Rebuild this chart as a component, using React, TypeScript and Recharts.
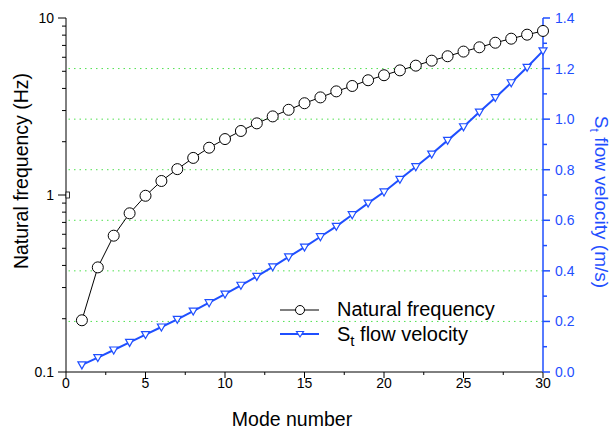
import {
  ComposedChart, Line, XAxis, YAxis, ReferenceLine,
} from 'recharts'

const modes = [
  1, 2, 3, 4, 5, 6, 7, 8, 9, 10, 11, 12, 13, 14, 15,
  16, 17, 18, 19, 20, 21, 22, 23, 24, 25, 26, 27, 28, 29, 30,
]
const naturalFrequency = [
  0.196, 0.39, 0.589, 0.788, 0.99, 1.2, 1.4, 1.62, 1.85, 2.07,
  2.3, 2.54, 2.78, 3.03, 3.3, 3.56, 3.85, 4.13, 4.45, 4.75,
  5.06, 5.38, 5.74, 6.08, 6.46, 6.83, 7.25, 7.64, 8.05, 8.45,
]
const flowVelocity = [
  0.028, 0.057, 0.087, 0.117, 0.148, 0.178, 0.208, 0.241, 0.274, 0.308,
  0.343, 0.378, 0.416, 0.455, 0.494, 0.535, 0.576, 0.622, 0.668, 0.712,
  0.762, 0.812, 0.862, 0.916, 0.97, 1.028, 1.085, 1.144, 1.205, 1.27,
]
const xTicks = [0, 2.5, 5, 7.5, 10, 12.5, 15, 17.5, 20, 22.5, 25, 27.5, 30]
const xMajor = [0, 5, 10, 15, 20, 25, 30]
const leftTicks = [
  0.1, 0.2, 0.3, 0.4, 0.5, 0.6, 0.7, 0.8, 0.9,
  1, 2, 3, 4, 5, 6, 7, 8, 9, 10,
]
const leftMajor = [0.1, 1, 10]
const rightTicks = [0, 0.1, 0.2, 0.3, 0.4, 0.5, 0.6, 0.7, 0.8, 0.9, 1, 1.1, 1.2, 1.3, 1.4]
const rightMajor = [0, 0.2, 0.4, 0.6, 0.8, 1, 1.2, 1.4]
const gridValues = [0.2, 0.4, 0.6, 0.8, 1, 1.2]

const BLUE = '#1f4fff'
const FONT = '"Liberation Sans", Arial, sans-serif'

const data = modes.map((m, i) => ({
  mode: m,
  freq: naturalFrequency[i],
  vel: flowVelocity[i],
}))

const isIn = (list: number[], v: number) => list.some((t) => Math.abs(t - v) < 1e-6)

function BottomTick({ x, y, payload }: any) {
  const major = isIn(xMajor, payload.value)
  return (
    <g>
      <line x1={x} x2={x} y1={y} y2={y + (major ? 6 : 3)} stroke="#000" />
      {major && (
        <text x={x} y={y + 16} textAnchor="middle" fontSize={14} fontFamily={FONT} fill="#000">
          {payload.value}
        </text>
      )}
    </g>
  )
}

function LeftTick({ x, y, payload }: any) {
  const major = isIn(leftMajor, payload.value)
  return (
    <g>
      <line x1={x} x2={x - (major ? 8 : 4)} y1={y} y2={y} stroke="#000" />
      {payload.value === 1 && (
        <rect x={x} y={y - 3} width={3.5} height={6} fill="#fff" stroke="#000" strokeWidth={0.8} />
      )}
      {major && (
        <text x={x - 12} y={y + 5} textAnchor="end" fontSize={14} fontFamily={FONT} fill="#000">
          {payload.value}
        </text>
      )}
    </g>
  )
}

function RightTick({ x, y, payload }: any) {
  const major = isIn(rightMajor, payload.value)
  return (
    <g>
      <line x1={x} x2={x + (major ? 7 : 4)} y1={y} y2={y} stroke={BLUE} strokeWidth={1.5} />
      {major && (
        <text x={x + 12} y={y + 5} textAnchor="start" fontSize={14} fontFamily={FONT} fill={BLUE}>
          {payload.value.toFixed(1)}
        </text>
      )}
    </g>
  )
}

function CircleDot({ cx, cy }: any) {
  return <circle cx={cx} cy={cy} r={5.5} fill="#fff" stroke="#000" strokeWidth={1} />
}

function TriangleDot({ cx, cy }: any) {
  return (
    <polygon
      points={`${cx - 4},${cy - 3} ${cx + 4},${cy - 3} ${cx},${cy + 4}`}
      fill="#fff"
      stroke={BLUE}
      strokeWidth={1.2}
    />
  )
}

export default function App() {
  return (
    <div style={{ position: 'absolute', left: 0, top: 0, width: 615, height: 429, background: '#fff', fontFamily: FONT }}>
      <ComposedChart width={615} height={429} data={data} margin={{ top: 18, right: 0, bottom: 0, left: 0 }}>
        <XAxis
          dataKey="mode"
          type="number"
          domain={[0, 30]}
          ticks={xTicks}
          interval={0}
          height={57}
          tickSize={0}
          tickMargin={0}
          tickLine={false}
          axisLine={{ stroke: '#000' }}
          tick={<BottomTick />}
          label={{
            content: () => (
              <text x={292} y={426} textAnchor="middle" fontSize={19.5} fontFamily={FONT} fill="#000">
                Mode number
              </text>
            ),
          }}
        />
        <YAxis
          yAxisId="left"
          orientation="left"
          scale="log"
          domain={[0.1, 10]}
          ticks={leftTicks}
          interval={0}
          allowDataOverflow
          width={66}
          tickSize={0}
          tickMargin={0}
          tickLine={false}
          axisLine={{ stroke: '#000' }}
          tick={<LeftTick />}
          label={{
            content: () => (
              <text
                x={28}
                y={171}
                transform="rotate(-90 28 171)"
                textAnchor="middle"
                fontSize={19.5}
                fontFamily={FONT}
                fill="#000"
              >
                Natural frequency (Hz)
              </text>
            ),
          }}
        />
        <YAxis
          yAxisId="right"
          orientation="right"
          domain={[0, 1.4]}
          ticks={rightTicks}
          interval={0}
          width={72}
          tickSize={0}
          tickMargin={0}
          tickLine={false}
          axisLine={{ stroke: BLUE, strokeWidth: 1.5 }}
          tick={<RightTick />}
          label={{
            content: () => (
              <text
                x={595}
                y={202}
                transform="rotate(90 595 202)"
                textAnchor="middle"
                fontSize={19}
                fontFamily={FONT}
                fill={BLUE}
              >
                S<tspan fontSize={12} dy={5}>t</tspan>
                <tspan dy={-5}> flow velocity (m/s)</tspan>
              </text>
            ),
          }}
        />
        {gridValues.map((v) => (
          <ReferenceLine
            key={v}
            yAxisId="right"
            y={v}
            stroke="#4ee04e"
            strokeDasharray="1.5 4"
          />
        ))}
        <Line
          yAxisId="left"
          dataKey="freq"
          type="linear"
          stroke="#000"
          strokeWidth={1}
          dot={<CircleDot />}
          isAnimationActive={false}
        />
        <Line
          yAxisId="right"
          dataKey="vel"
          type="linear"
          stroke={BLUE}
          strokeWidth={2}
          dot={<TriangleDot />}
          isAnimationActive={false}
        />
      </ComposedChart>
      <svg width={615} height={429} style={{ position: 'absolute', left: 0, top: 0, pointerEvents: 'none' }}>
        <line x1={280} x2={319} y1={310} y2={310} stroke="#000" />
        <circle cx={300} cy={310} r={4.5} fill="#fff" stroke="#000" />
        <text x={337} y={316} fontSize={20} fontFamily={FONT} fill="#000">Natural frequency</text>
        <line x1={280} x2={319} y1={334} y2={334} stroke={BLUE} strokeWidth={2} />
        <polygon points="296.5,331.5 303.5,331.5 300,337" fill="#fff" stroke={BLUE} strokeWidth={1.2} />
        <text x={337} y={341} fontSize={20} fontFamily={FONT} fill="#000">
          S<tspan fontSize={15} dy={5}>t</tspan>
          <tspan dy={-5}> flow velocity</tspan>
        </text>
      </svg>
    </div>
  )
}
